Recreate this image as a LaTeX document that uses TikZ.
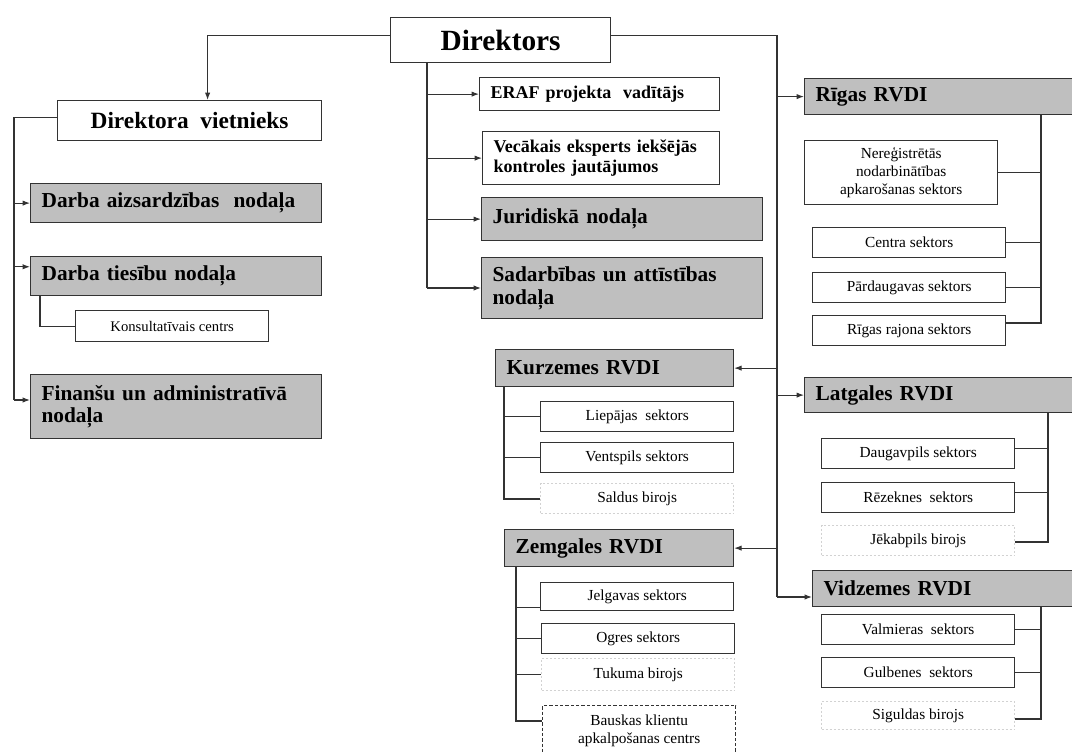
\documentclass[tikz,border=0pt]{standalone}
\usepackage{fontspec}
\setmainfont{Liberation Serif}
\usetikzlibrary{arrows.meta}
\tikzset{>={Latex[length=5.5pt,width=4pt]}}

\begin{document}
\begin{tikzpicture}[x=0.75pt,y=-0.75pt,
  every node/.style={anchor=north west},
  unit/.style={draw=black!80, line width=0.9pt, fill=gray!50, inner xsep=8.25pt, inner ysep=0pt, align=left, font=\bfseries\fontsize{16}{17}\selectfont},
  post/.style={unit, fill=white, font=\bfseries\fontsize{13.5}{15}\selectfont},
  sector/.style={draw=black!80, line width=0.8pt, fill=white, inner sep=0pt, align=center, minimum width=145pt, minimum height=22.5pt, font=\fontsize{11.5}{13.5}\selectfont},
  office/.style={sector, draw=gray!35, dash pattern=on 1.5pt off 1.5pt},
  link/.style={draw=black!80, line width=0.8pt}]
  \path[use as bounding box, fill=white] (0,0) rectangle (1072,751);

  \node[unit, fill=white, align=center, inner xsep=0pt, minimum width=165pt, minimum height=33.75pt, font=\bfseries\fontsize{22}{24}\selectfont] (dir) at (390,17) {Direktors};
  \node[unit, fill=white, align=center, inner xsep=0pt, minimum width=198pt, minimum height=30pt, font=\bfseries\fontsize{17.5}{19}\selectfont] (vietn) at (57,100) {Direktora~~vietnieks};

  \node[unit, text width=201.75pt, minimum height=29.25pt] (aizs) at (30,183) {Darba aizsardzības~~nodaļa};
  \node[unit, text width=201.75pt, minimum height=29.25pt] (ties) at (30,256) {Darba tiesību nodaļa};
  \node[sector, minimum height=23.25pt, font=\fontsize{11}{13}\selectfont] (kons) at (75,310) {Konsultatīvais centrs};
  \node[unit, text width=201.75pt, minimum height=48pt] (fin) at (30,374) {Finanšu un administratīvā\\nodaļa};

  \node[post, text width=163.5pt, minimum height=24.75pt] (eraf) at (479,77) {ERAF projekta~~vadītājs};
  \node[post, text width=161.25pt, minimum height=39.75pt] (vec) at (482,131) {Vecākais eksperts iekšējās\\kontroles jautājumos};
  \node[unit, text width=194.25pt, minimum height=32.25pt] (jur) at (481,197) {Juridiskā nodaļa};
  \node[unit, text width=194.25pt, minimum height=45.75pt] (sad) at (481,257) {Sadarbības un attīstības\\nodaļa};

  \node[unit, text width=187.5pt, minimum height=27pt] (riga) at (804,78) {Rīgas RVDI};
  \node[sector, minimum height=48pt] (nereg) at (804,140) {Nereģistrētās\\nodarbinātības\\apkarošanas sektors};
  \node[sector] (centra) at (812,227) {Centra sektors};
  \node[sector] (pard) at (812,272) {Pārdaugavas sektors};
  \node[sector] (rraj) at (812,315) {Rīgas rajona sektors};

  \node[unit, text width=162pt, minimum height=27.75pt] (kurz) at (495,349) {Kurzemes RVDI};
  \node[sector] (liep) at (540,401) {Liepājas~~sektors};
  \node[sector] (vent) at (540,442) {Ventspils sektors};
  \node[office] (sald) at (540,483) {Saldus birojs};

  \node[unit, text width=155.25pt, minimum height=27.75pt] (zemg) at (504,529) {Zemgales RVDI};
  \node[sector, minimum height=21pt] (jelg) at (540,582) {Jelgavas sektors};
  \node[sector] (ogr) at (541,623) {Ogres sektors};
  \node[office, minimum height=24pt] (tuk) at (541,658) {Tukuma birojs};
  \node[sector, dash pattern=on 2.5pt off 1.5pt, minimum height=37.5pt] (bausk) at (542,705) {Bauskas klientu\\apkalpošanas centrs};

  \node[unit, text width=187.5pt, minimum height=26.25pt] (latg) at (804,377) {Latgales RVDI};
  \node[sector] (daug) at (821,438) {Daugavpils sektors};
  \node[sector] (rez) at (821,482) {Rēzeknes~~sektors};
  \node[office] (jek) at (821,525) {Jēkabpils birojs};

  \node[unit, text width=181.5pt, minimum height=27pt] (vidz) at (812,570) {Vidzemes RVDI};
  \node[sector] (valm) at (821,614) {Valmieras~~sektors};
  \node[sector] (gulb) at (821,657) {Gulbenes~~sektors};
  \node[office, minimum height=21pt] (sig) at (821,701) {Siguldas birojs};

  \coordinate (lspine) at (14,400);
  \coordinate (mspine) at (427,288);
  \coordinate (rspine) at (777,597);
  \coordinate (rgspine) at (1041,323);
  \coordinate (lgspine) at (1048,542);
  \coordinate (vdspine) at (1041,719);
  \coordinate (kzspine) at (504,499);
  \coordinate (zgspine) at (516,721);

  \draw[link,->] ([yshift=3.5pt]dir.west) -| ([xshift=13.5pt]vietn.north);
  \draw[link] ([yshift=2pt]vietn.west) -| (lspine);
  \draw[link,->] (lspine |- aizs.west) -- (aizs.west);
  \draw[link,<-] ([yshift=7pt]ties.west) -- ++(-16,0);
  \draw[link,->] (lspine) -- (lspine -| fin.west);
  \draw[link] ([xshift=7.5pt]ties.south west) |- (kons.west);

  \draw[link] (dir.south -| mspine) -- (mspine);
  \foreach \n in {eraf,vec,jur}
    \draw[link,->] (mspine |- \n.west) -- (\n.west);
  \draw[link,->] (mspine) -- (mspine -| sad.west);

  \draw[link] ([yshift=3.5pt]dir.east) -| (rspine);
  \foreach \n in {riga,latg}
    \draw[link,->] (rspine |- \n.west) -- (\n.west);
  \draw[link,->] (rspine) -- (rspine -| vidz.west);
  \foreach \n in {kurz,zemg}
    \draw[link,->] (rspine |- \n.east) -- (\n.east);

  \draw[link] (riga.south -| rgspine) -- (rgspine) -- (rgspine -| rraj.east);
  \foreach \n in {nereg,centra,pard}
    \draw[link] (rgspine |- \n.east) -- (\n.east);

  \draw[link] (latg.south -| lgspine) -- (lgspine) -- (lgspine -| jek.east);
  \foreach \n in {daug,rez}
    \draw[link] ([yshift=4pt]\n.east) -- ++(34,0);

  \draw[link] (vidz.south -| vdspine) -- (vdspine) -- (vdspine -| sig.east);
  \foreach \n in {valm,gulb}
    \draw[link] (vdspine |- \n.east) -- (\n.east);

  \draw[link] (kurz.south -| kzspine) -- (kzspine) -- (kzspine -| sald.west);
  \foreach \n in {liep,vent}
    \draw[link] (kzspine |- \n.west) -- (\n.west);

  \draw[link] (zemg.south -| zgspine) -- (zgspine) -- (zgspine -| bausk.west);
  \draw[link] ([yshift=-8pt]jelg.west) -- ++(-24,0);
  \foreach \n in {ogr,tuk}
    \draw[link] (zgspine |- \n.west) -- (\n.west);
\end{tikzpicture}
\end{document}
